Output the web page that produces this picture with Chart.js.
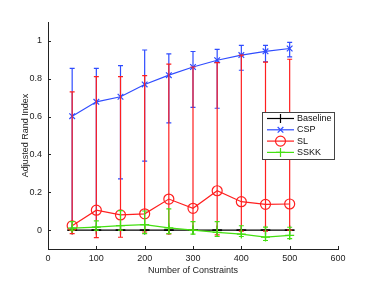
<!DOCTYPE html>
<html>
<head>
<meta charset="utf-8">
<script src="https://cdn.jsdelivr.net/npm/chart.js@4/dist/chart.umd.min.js"></script>
<style>
  body { margin: 0; background: #fff; }
  #wrap { width: 374px; height: 281px; }
</style>
</head>
<body>
<div id="wrap"><canvas id="chart" width="374" height="281"></canvas></div>
<script>
// data
const constraints = [50, 100, 150, 200, 250, 300, 350, 400, 450, 500];
const baseline = [0, 0, 0, 0, 0, 0, 0, 0, 0, 0];
const cspMean = [0.602, 0.678, 0.705, 0.770, 0.819, 0.862, 0.898, 0.925, 0.945, 0.960];
const cspLow  = [0.010, 0.014, 0.271, 0.365, 0.567, 0.649, 0.644, 0.845, 0.890, 0.916];
const cspHigh = [0.855, 0.855, 0.869, 0.952, 0.931, 0.944, 0.955, 0.976, 0.976, 0.992];
const slMean = [0.023, 0.105, 0.080, 0.086, 0.164, 0.115, 0.208, 0.150, 0.136, 0.138];
const slLow  = [-0.019, -0.040, -0.038, -0.010, -0.020, 0.000, -0.025, -0.005, -0.006, 0.000];
const slHigh = [0.731, 0.811, 0.811, 0.817, 0.877, 0.862, 0.885, 0.925, 0.888, 0.903];
const sskkMean = [0.010, 0.016, 0.024, 0.029, 0.012, 0.000, -0.012, -0.021, -0.037, -0.028];
const sskkLow  = [0.000, 0.000, 0.000, -0.019, -0.019, -0.021, -0.034, -0.034, -0.055, -0.045];
const sskkHigh = [0.045, 0.049, 0.103, 0.101, 0.112, 0.045, 0.045, 0.023, 0.016, 0.015];
const xTicks = [0, 100, 200, 300, 400, 500, 600];
const yTicks = [0, 0.2, 0.4, 0.6, 0.8, 1];
const seriesNames = ['Baseline', 'CSP', 'SL', 'SSKK'];

const FONT = 'Liberation Sans, Arial, Helvetica, sans-serif';
const colors = ['#000000', '#2f4cff', '#ff1f1f', '#44e011'];
const styles = ['cross', 'crossRot', 'circle', 'cross'];
const radii = [4.5, 4, 5, 4.5];

const pts = (ys) => constraints.map((x, i) => ({ x: x, y: ys[i] }));
const errLow = [baseline, cspLow, slLow, sskkLow];
const errHigh = [baseline, cspHigh, slHigh, sskkHigh];

function makeSet(i, ys) {
  return {
    label: seriesNames[i],
    data: pts(ys),
    borderColor: colors[i],
    backgroundColor: 'rgba(0,0,0,0)',
    borderWidth: 1.2,
    pointStyle: styles[i],
    pointRadius: radii[i],
    pointBorderWidth: 1.2,
    pointBorderColor: colors[i],
    pointBackgroundColor: 'rgba(0,0,0,0)',
    tension: 0,
    order: 4 - i, // later series on top, like matlab
    clip: false
  };
}

// error bars, drawn just before each series' own line
const errorBars = {
  id: 'errorBars',
  beforeDatasetDraw(chart, args) {
    const i = args.index;
    const ctx = chart.ctx;
    const xs = chart.scales.x, ys = chart.scales.y;
    ctx.save();
    ctx.strokeStyle = colors[i];
    ctx.lineWidth = 1.2;
    const cap = i === 0 ? 5 : 2.5;
    constraints.forEach((c, k) => {
      const px = xs.getPixelForValue(c);
      const lo = ys.getPixelForValue(errLow[i][k]);
      const hi = ys.getPixelForValue(errHigh[i][k]);
      ctx.beginPath();
      ctx.moveTo(px, lo); ctx.lineTo(px, hi);
      ctx.moveTo(px - cap, lo); ctx.lineTo(px + cap, lo);
      ctx.moveTo(px - cap, hi); ctx.lineTo(px + cap, hi);
      ctx.stroke();
    });
    ctx.restore();
  }
};

// matlab style inward ticks + legend box
const extras = {
  id: 'extras',
  afterDraw(chart) {
    const ctx = chart.ctx;
    const xs = chart.scales.x, ys = chart.scales.y;
    const a = chart.chartArea;
    ctx.save();
    ctx.strokeStyle = '#222';
    ctx.lineWidth = 1;
    ctx.beginPath();
    xTicks.forEach(v => {
      const px = Math.round(xs.getPixelForValue(v)) + 0.5;
      ctx.moveTo(px, a.bottom); ctx.lineTo(px, a.bottom - 3);
    });
    yTicks.forEach(v => {
      const py = Math.round(ys.getPixelForValue(v)) + 0.5;
      ctx.moveTo(a.left, py); ctx.lineTo(a.left + 3, py);
    });
    ctx.stroke();

    // legend
    const lx = 262, ly = 112, lw = 72, lh = 47;
    ctx.fillStyle = '#fff';
    ctx.fillRect(lx, ly, lw, lh);
    ctx.strokeStyle = '#444';
    ctx.strokeRect(lx + 0.5, ly + 0.5, lw, lh);
    ctx.font = '9px ' + FONT;
    ctx.textBaseline = 'middle';
    seriesNames.forEach((name, i) => {
      const y = ly + 6.5 + i * 11.3;
      ctx.strokeStyle = colors[i];
      ctx.lineWidth = 1.2;
      ctx.beginPath();
      ctx.moveTo(lx + 5, y); ctx.lineTo(lx + 32, y);
      ctx.stroke();
      const mx = lx + 18.5, r = radii[i];
      ctx.beginPath();
      if (styles[i] === 'circle') {
        ctx.arc(mx, y, r, 0, Math.PI * 2);
      } else if (styles[i] === 'cross') {
        ctx.moveTo(mx - r, y); ctx.lineTo(mx + r, y);
        ctx.moveTo(mx, y - r); ctx.lineTo(mx, y + r);
      } else {
        const d = r * 0.707;
        ctx.moveTo(mx - d, y - d); ctx.lineTo(mx + d, y + d);
        ctx.moveTo(mx - d, y + d); ctx.lineTo(mx + d, y - d);
      }
      ctx.stroke();
      ctx.fillStyle = '#111';
      ctx.fillText(name, lx + 35, y);
    });
    ctx.restore();
  }
};

new Chart(document.getElementById('chart'), {
  type: 'line',
  data: {
    datasets: [
      makeSet(0, baseline),
      makeSet(1, cspMean),
      makeSet(2, slMean),
      makeSet(3, sskkMean)
    ]
  },
  options: {
    responsive: false,
    animation: false,
    layout: { padding: { left: 0, right: 36, top: 22, bottom: 0 } },
    plugins: { legend: { display: false }, tooltip: { enabled: false } },
    scales: {
      x: {
        type: 'linear',
        min: 0, max: 600,
        afterBuildTicks: (s) => { s.ticks = xTicks.map(v => ({ value: v })); },
        afterFit: (s) => { s.height = 32; },
        grid: { drawOnChartArea: false, drawTicks: false },
        border: { display: true, color: '#222', width: 1 },
        ticks: { color: '#222', font: { family: FONT, size: 9 }, padding: 4, maxRotation: 0, callback: (v) => String(v) },
        title: { display: true, text: 'Number of Constraints', color: '#222', font: { family: FONT, size: 9 }, padding: { top: 0, bottom: 5 } }
      },
      y: {
        type: 'linear',
        min: -0.1, max: 1.1,
        afterBuildTicks: (s) => { s.ticks = yTicks.map(v => ({ value: v })); },
        afterFit: (s) => { s.width = 48; },
        grid: { drawOnChartArea: false, drawTicks: false },
        border: { display: true, color: '#222', width: 1 },
        ticks: { color: '#222', font: { family: FONT, size: 9 }, padding: 6, callback: (v) => String(Math.round(v * 10) / 10) },
        title: { display: true, text: 'Adjusted Rand Index', color: '#222', font: { family: FONT, size: 9 }, padding: { top: 20, bottom: 0 } }
      }
    }
  },
  plugins: [errorBars, extras]
});
</script>
</body>
</html>
